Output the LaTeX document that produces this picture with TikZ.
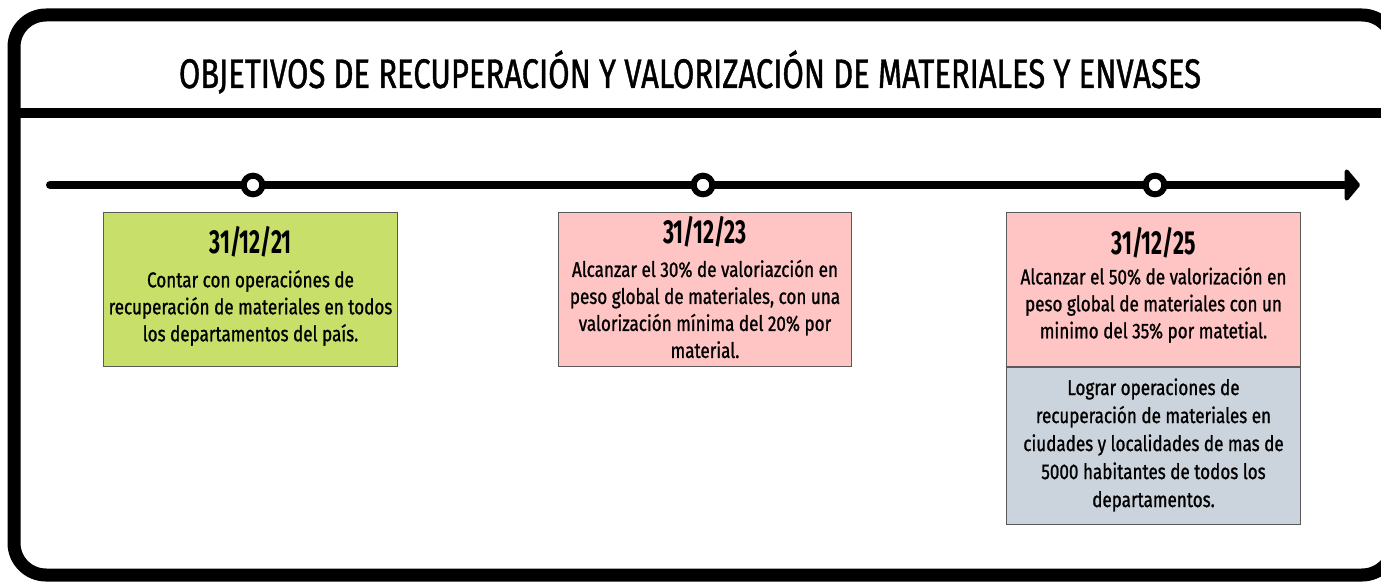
\documentclass[tikz,border=0pt]{standalone}
\usepackage{fontspec}
\setmainfont{Fira Sans}[FakeStretch=0.8, FakeBold=1]
\newfontfamily\titulofont{Fira Sans}[FakeStretch=0.75, FakeBold=1]
\newfontfamily\fechafont{Fira Sans}[FakeStretch=0.64]
\usetikzlibrary{arrows.meta}
\definecolor{verde}{HTML}{C8E06A}
\definecolor{rosa}{HTML}{FFC4C4}
\definecolor{gris}{HTML}{CBD3DD}
\begin{document}
\begin{tikzpicture}[x=0.75pt,y=-0.75pt,
	caja/.style={rectangle, draw=black!65, line width=0.9pt, inner sep=0pt, minimum width=220pt},
	hito/.style={circle, draw, fill=white, line width=4.5pt, minimum size=14pt, inner sep=0pt},
	fecha/.style={font=\fechafont\bfseries\fontsize{25}{28}\selectfont},
	texto/.style={align=center, font=\fontsize{16}{20.25}\selectfont}]
	\useasboundingbox (0,0) rectangle (1381,585);

	\draw[line width=9.75pt, rounded corners=24pt] (14,15) rectangle (1394,575);
	\draw[line width=7.5pt] (14,113) -- (1394,113);

	\node[font=\titulofont\fontsize{31}{34}\selectfont] (titulo) at (690,72)
		{OBJETIVOS DE RECUPERACIÓN Y VALORIZACIÓN DE MATERIALES Y ENVASES};

	\coordinate (inicio) at (50,185);
	\coordinate (fin) at (1360,185);
	\draw[line width=6pt, line cap=round, -{Triangle[round, length=12pt, width=28pt]}] (inicio) -- (fin);

	\node[hito] (h1) at (253,185) {};
	\node[hito] (h2) at (703,185) {};
	\node[hito] (h3) at (1155,185) {};

	\node[caja, fill=verde, minimum height=116pt] (c1) at (250.5,289.5) {};
	\node[caja, fill=rosa, minimum height=116pt] (c2) at (705,289.5) {};
	\node[caja, fill=rosa, minimum height=116pt] (c3) at (1153.5,289.5) {};
	\node[caja, fill=gris, minimum height=118pt] (c4) at (1153.5,446) {};

	\node[fecha] (f1) at (250.5,242) {31/12/21};
	\node[fecha] (f2) at (705,232) {31/12/23};
	\node[fecha] (f3) at (1153.5,243) {31/12/25};

	\node[texto] (t1) at (250.5,308) {Contar con operaciónes de\\recuperación de materiales en todos\\los departamentos del país.};
	\node[texto] (t2) at (705,309) {Alcanzar el 30\% de valoriazción en\\peso global de materiales, con una\\valorización mínima del 20\% por\\material.};
	\node[texto] (t3) at (1153.5,305) {Alcanzar el 50\% de valorización en\\peso global de materiales con un\\minimo del 35\% por matetial.};
	\node[texto, font=\fontsize{16}{21}\selectfont] (t4) at (1153.5,445) {Lograr operaciones de\\recuperación de materiales en\\ciudades y localidades de mas de\\5000 habitantes de todos los\\departamentos.};
\end{tikzpicture}
\end{document}
